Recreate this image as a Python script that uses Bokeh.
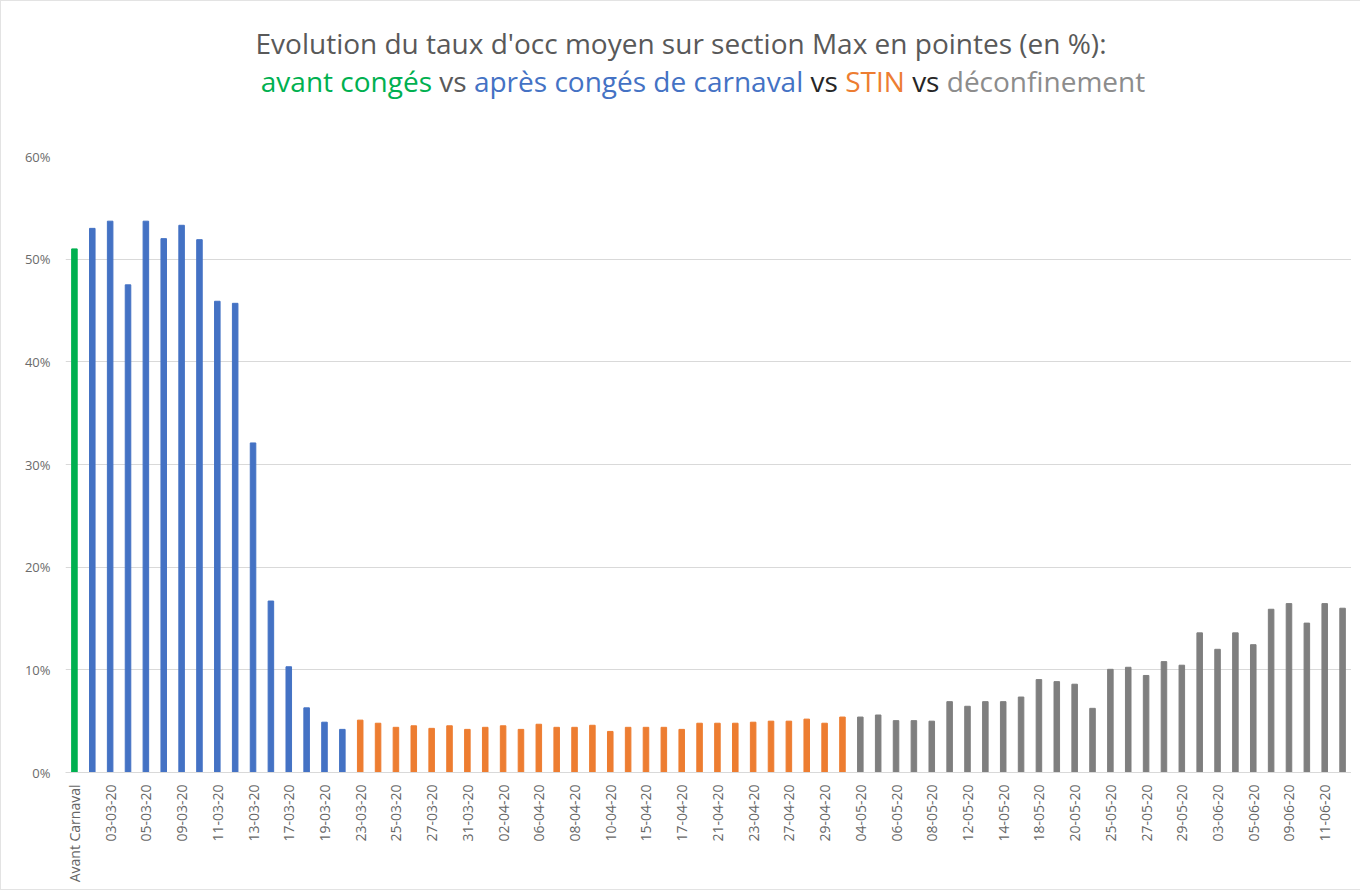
import math
from bokeh.plotting import figure
from bokeh.models import ColumnDataSource, FixedTicker, PrintfTickFormatter, Div
from bokeh.layouts import column
from bokeh.embed import file_html
from bokeh.resources import INLINE

# ---------------- data ----------------
categories = [
    "Avant Carnaval",
    "02-03-20", "03-03-20", "04-03-20", "05-03-20", "06-03-20", "09-03-20", "10-03-20",
    "11-03-20", "12-03-20", "13-03-20", "16-03-20", "17-03-20", "18-03-20", "19-03-20",
    "20-03-20",
    "23-03-20", "24-03-20", "25-03-20", "26-03-20", "27-03-20", "30-03-20", "31-03-20",
    "01-04-20", "02-04-20", "03-04-20", "06-04-20", "07-04-20", "08-04-20", "09-04-20",
    "10-04-20", "14-04-20", "15-04-20", "16-04-20", "17-04-20", "20-04-20", "21-04-20",
    "22-04-20", "23-04-20", "24-04-20", "27-04-20", "28-04-20", "29-04-20", "30-04-20",
    "04-05-20", "05-05-20", "06-05-20", "07-05-20", "08-05-20", "11-05-20", "12-05-20",
    "13-05-20", "14-05-20", "15-05-20", "18-05-20", "19-05-20", "20-05-20", "22-05-20",
    "25-05-20", "26-05-20", "27-05-20", "28-05-20", "29-05-20", "02-06-20", "03-06-20",
    "04-06-20", "05-06-20", "08-06-20", "09-06-20", "10-06-20", "11-06-20", "12-06-20",
]

avant_conges = [51.0]
apres_conges = [53.0, 53.7, 47.5, 53.7, 52.0, 53.3, 51.9, 45.9, 45.7, 32.1,
                16.7, 10.3, 6.3, 4.9, 4.2]
stin = [5.1, 4.8, 4.4, 4.55, 4.3, 4.55, 4.2, 4.4, 4.55, 4.2, 4.7, 4.4, 4.4, 4.6,
        4.0, 4.4, 4.4, 4.4, 4.2, 4.8, 4.8, 4.8, 4.9, 5.0, 5.0, 5.2, 4.8, 5.4]
deconfinement = [5.4, 5.6, 5.05, 5.05, 5.0, 6.9, 6.45, 6.9, 6.9, 7.35, 9.05, 8.85,
                 8.6, 6.25, 10.05, 10.25, 9.45, 10.8, 10.45, 13.6, 12.0, 13.6, 12.45,
                 15.9, 16.45, 14.55, 16.45, 16.0]

series = [
    (avant_conges, "#00B050"),
    (apres_conges, "#4472C4"),
    (stin, "#ED7D31"),
    (deconfinement, "#7F7F7F"),
]

y_ticks = [0, 10, 20, 30, 40, 50, 60]

# ---------------- build ----------------
xs, tops, colors = [], [], []
i = 0
for vals, col in series:
    for v in vals:
        xs.append(i)
        tops.append(v)
        colors.append(col)
        i += 1
src = ColumnDataSource(dict(x=xs, top=tops, color=colors, label=categories[:len(xs)]))

FONT = "Open Sans"
W = 1350

title_html = (
    '<div style="width:%dpx;text-align:center;font-family:\'Open Sans\',sans-serif;'
    'font-size:28px;line-height:38px;padding-top:18px;color:#595959;">'
    '<div>Evolution du taux d\'occ moyen sur section Max en pointes (en %%):</div>'
    '<div style="padding-left:44px">'
    '<span style="color:#00B050">avant congés</span> '
    '<span style="color:#595959">vs</span> '
    '<span style="color:#4472C4">après congés de carnaval</span> '
    '<span style="color:#262626">vs</span> '
    '<span style="color:#ED7D31">STIN</span> '
    '<span style="color:#262626">vs</span> '
    '<span style="color:#8C8C8C">déconfinement</span>'
    '</div></div>'
) % W
div = Div(text=title_html, width=W, height=108)

p = figure(
    width=W, height=770,
    x_range=(-0.5, len(xs) - 0.5), y_range=(0, 60),
    output_backend="svg", toolbar_location=None,
    min_border_left=64, min_border_right=0, min_border_top=37, min_border_bottom=117,
)
p.outline_line_color = None
p.background_fill_color = "white"
p.border_fill_color = "white"

p.vbar(x="x", top="top", width=0.31, color="color", source=src)

p.xgrid.grid_line_color = None
p.ygrid.grid_line_color = "#d9d9d9"
p.ygrid.grid_line_width = 1

p.yaxis.ticker = FixedTicker(ticks=y_ticks)
p.yaxis.formatter = PrintfTickFormatter(format="%d%%")
p.yaxis.axis_line_color = None
p.yaxis.major_tick_line_color = None
p.yaxis.minor_tick_line_color = None
p.yaxis.major_label_text_font = FONT
p.yaxis.major_label_text_font_size = "13px"
p.yaxis.major_label_text_color = "#6b6b6b"
p.yaxis.major_label_standoff = 9

even = list(range(0, len(xs), 2))
p.xaxis.ticker = FixedTicker(ticks=even)
p.xaxis.major_label_overrides = {k: categories[k] for k in even}
p.xaxis.major_label_orientation = math.pi / 2
p.xaxis.axis_line_color = "#d9d9d9"
p.xaxis.axis_line_width = 1
p.xaxis.major_tick_line_color = None
p.xaxis.minor_tick_line_color = None
p.xaxis.major_label_text_font = FONT
p.xaxis.major_label_text_font_size = "14px"
p.xaxis.major_label_text_color = "#666666"
p.xaxis.major_label_standoff = 6

layout = column(div, p, styles={"border": "1px solid #e3e3e3"})

open("out.html", "w").write(file_html(layout, INLINE))
